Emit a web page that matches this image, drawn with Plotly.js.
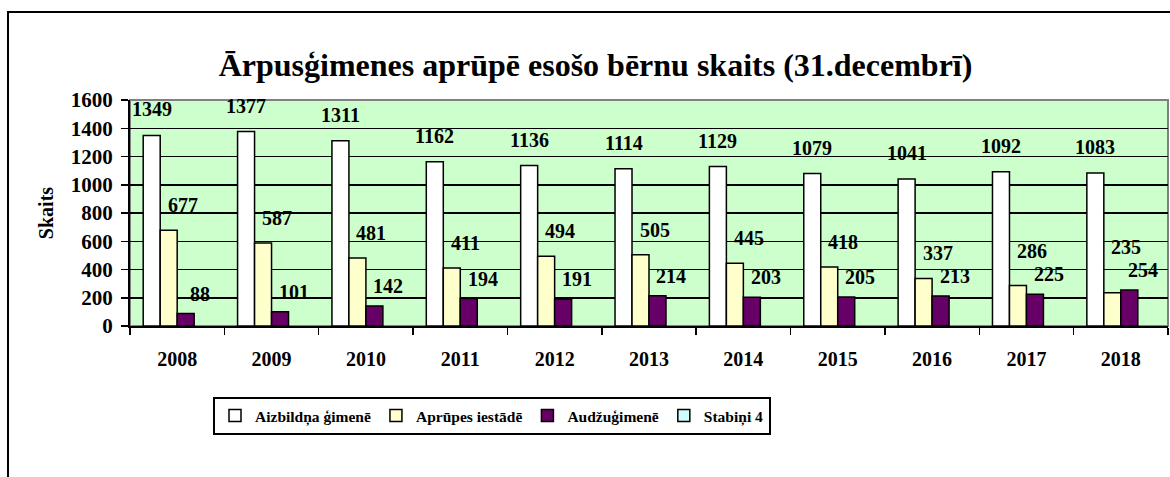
<!DOCTYPE html>
<html>
<head>
<meta charset="utf-8">
<script src="https://cdn.plot.ly/plotly-3.0.1.min.js"></script>
<style>html,body{margin:0;padding:0;background:#fff;}#chart{width:1170px;height:477px;}</style>
</head>
<body>
<div id="chart"></div>
<script>
const years = ['2008','2009','2010','2011','2012','2013','2014','2015','2016','2017','2018'];
const aizbildna = [1349,1377,1311,1162,1136,1114,1129,1079,1041,1092,1083];
const aprupes = [677,587,481,411,494,505,445,418,337,286,235];
const audzu = [88,101,142,194,191,214,203,205,213,225,254];
const stabini4 = [null,null,null,null,null,null,null,null,null,null,null];
const seriesNames = ['Aizbildņa ģimenē','Aprūpes iestādē','Audžuģimenē','Stabiņi 4'];
const yTicks = [0,200,400,600,800,1000,1200,1400,1600];

const W = 1170, H = 477;
const margin = {l:130, r:2, t:100, b:151};
const bargap = 0.28;
const plotW = W - margin.l - margin.r;
const plotH = H - margin.t - margin.b;
const yMax = 1600;
const pxPerUnit = plotH / yMax;
const catW = plotW / years.length;
const barW = catW * (1 - bargap) / 4;
const FAM = '"Times New Roman", "Liberation Serif", Times, serif';

const colors = ['#FFFFFF','#FFFFCC','#660066','#CCFFFF'];
const allSeries = [aizbildna, aprupes, audzu, stabini4];

const traces = allSeries.map((vals, i) => ({
  type:'bar', x: years, y: vals, name: '<b>' + seriesNames[i] + '</b>',
  marker:{color: colors[i], line:{color:'#000', width:1.5}},
  hoverinfo:'skip'
}));

// data labels: placed above each bar; the middle series' label is pushed up if it would collide with the next one
const labelFont = {family:FAM, size:20, color:'#000'};
const extraX = [0, 14, 14];
const baseShift = [26, 25, 20];
const minGap = 23;
const annotations = [];
[aizbildna, aprupes, audzu].forEach((vals, i) => {
  const off = (i - 1.5) * barW + extraX[i];
  vals.forEach((v, j) => {
    let ys = baseShift[i];
    if (i === 1) {
      const nextLabelPx = (audzu[j] - v) * pxPerUnit + baseShift[2];
      ys = Math.max(ys, nextLabelPx + minGap);
    }
    annotations.push({x: j, y: v, xref:'x', yref:'y', text: '<b>' + v + '</b>',
      showarrow:false, xshift: off, yshift: ys, yanchor:'middle', xanchor:'center', font: labelFont});
  });
});

const layout = {
  width: W, height: H,
  margin: margin,
  paper_bgcolor:'#FFFFFF',
  plot_bgcolor:'#CCFFCC',
  barmode:'group', bargap: bargap, bargroupgap: 0,
  font:{family:FAM, color:'#000'},
  title:{text:'<b>Ārpusģimenes aprūpē esošo bērnu skaits (31.decembrī)</b>',
    font:{family:FAM, size:32, color:'#000'},
    x:0.509, xanchor:'center', y:1-65/H, yanchor:'middle', yref:'container'},
  xaxis:{type:'category', categoryorder:'array', categoryarray: years, range:[-0.5, years.length-0.5], autorange:false,
    tickson:'boundaries', ticks:'outside', ticklen:7, tickwidth:1.5, tickcolor:'#000',
    showline:true, linecolor:'#000', linewidth:2, showgrid:false,
    tickfont:{family:FAM, size:20, color:'#000', weight:'bold'},
    ticklabelstandoff: 14, fixedrange:true},
  yaxis:{range:[0,yMax], autorange:false, tickvals: yTicks, ticktext: yTicks.map(v => '<b>' + v + '</b>'), ticks:'outside', ticklen:7, tickwidth:1.5, tickcolor:'#000',
    showline:true, linecolor:'#000', linewidth:2, showgrid:true, gridcolor:'#000', gridwidth:1.5, zeroline:false,
    tickfont:{family:FAM, size:21, color:'#000'},
    ticklabelstandoff: 4,
    title:{text:'<b>Skaits</b>', font:{family:FAM, size:20, color:'#000'}, standoff:12},
    automargin:false, fixedrange:true},
  legend:{orientation:'h', x:(492-margin.l)/plotW, xanchor:'center', y:(H-margin.b-397)/plotH, yanchor:'top',
    bgcolor:'#FFFFFF', bordercolor:'#000', borderwidth:2,
    font:{family:FAM, size:15.5, color:'#000'},
    itemclick:false, itemdoubleclick:false},
  annotations: annotations,
  shapes:[
    {type:'rect', xref:'paper', yref:'paper', x0:0, x1:1, y0:0, y1:1, line:{color:'#808080', width:2}, layer:'below'},
    {type:'rect', xref:'paper', yref:'paper', x0:(8-margin.l)/plotW, x1:1.2, y0:-1.5, y1:(H-margin.b-12)/plotH, line:{color:'#000', width:2}, fillcolor:'rgba(0,0,0,0)'}
  ],
  showlegend:true
};

Plotly.newPlot('chart', traces, layout, {displayModeBar:false, staticPlot:true});
</script>
</body>
</html>
